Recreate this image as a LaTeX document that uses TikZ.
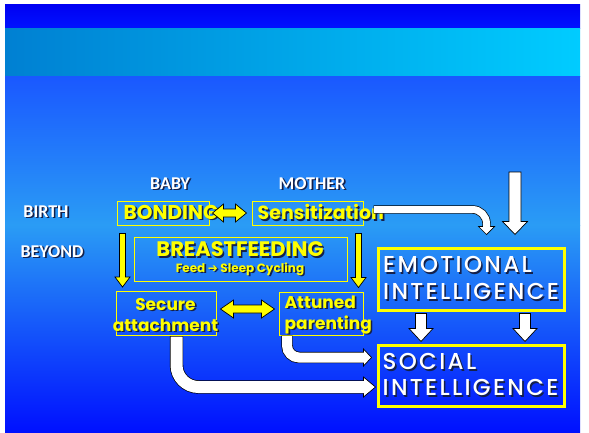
\documentclass[tikz,border=0pt]{standalone}
\usepackage{fontspec}
\setmainfont{Carlito}
\newfontfamily\comic{Poppins}
\newfontfamily\comicw{Poppins Medium}[LetterSpace=10]
\newfontfamily\symfont{DejaVu Sans}
\usepackage{xcolor}
\usetikzlibrary{calc,positioning}
\definecolor{Yel}{HTML}{FFFF00}
\definecolor{ShadowBlue}{HTML}{14204A}
\definecolor{BandTop}{HTML}{0000F2}
\definecolor{BandBot}{HTML}{0012FF}
\definecolor{CyanL}{HTML}{0080D2}
\definecolor{CyanR}{HTML}{00CCFF}
\definecolor{MainTop}{HTML}{1A58FF}
\definecolor{MainMid}{HTML}{2A9CF5}
\definecolor{MainBot}{HTML}{0010FF}
% text with a soft drop shadow
\newcommand{\shad}[1]{\makebox[0pt][l]{\kern1.6pt\raisebox{-1.6pt}{\color{ShadowBlue}#1}}#1}
% block arrow pointing down, from #2 to tip #3
\newcommand{\vblk}[6]{%
  \filldraw[blk,fill=#1] let \p1=(#2),\p2=(#3) in
    (\x1-#4pt,\y1) -- (\x1+#4pt,\y1) -- (\x1+#4pt,\y2+#6pt) -- (\x1+#5pt,\y2+#6pt)
    -- (\x1,\y2) -- (\x1-#5pt,\y2+#6pt) -- (\x1-#4pt,\y2+#6pt) -- cycle;}
% block arrow with two heads, left #2 to right #3
\newcommand{\dblk}[6]{%
  \filldraw[blk,fill=#1] let \p1=(#2),\p2=(#3) in
    (\x1,\y1) -- (\x1+#6pt,\y1+#5pt) -- (\x1+#6pt,\y1+#4pt) -- (\x2-#6pt,\y1+#4pt)
    -- (\x2-#6pt,\y1+#5pt) -- (\x2,\y1) -- (\x2-#6pt,\y1-#5pt) -- (\x2-#6pt,\y1-#4pt)
    -- (\x1+#6pt,\y1-#4pt) -- (\x1+#6pt,\y1-#5pt) -- cycle;}
% arrow heads for bent arrows
\newcommand{\headD}[3]{%
  \filldraw[blk,fill=white] let \p1=(#1) in
    (\x1,\y1) -- (\x1-#2pt,\y1+#3pt) -- (\x1+#2pt,\y1+#3pt) -- cycle;}
\newcommand{\headR}[3]{%
  \filldraw[blk,fill=white] let \p1=(#1) in
    (\x1,\y1) -- (\x1-#3pt,\y1+#2pt) -- (\x1-#3pt,\y1-#2pt) -- cycle;}
\tikzset{
  lbl/.style={text=white,font=\bfseries\fontsize{18}{20}\selectfont,inner sep=0pt},
  ybox/.style={draw=Yel,line width=1pt,inner sep=0pt},
  wbox/.style={draw=Yel,line width=3pt,inner sep=0pt},
  yword/.style={text=Yel,font=\comic\bfseries\fontsize{20}{22}\selectfont,inner sep=0pt},
  wword/.style={text=white,font=\comicw\fontsize{23}{27}\selectfont,inner sep=0pt,align=left},
  blk/.style={draw=black,line width=0.7pt,line join=miter},
  wout/.style={draw=black,line width=#1},
  win/.style={draw=white,line width=#1,shorten <=0.7pt,shorten >=-0.7pt}
}

\begin{document}
\begin{tikzpicture}[x=1pt,y=-1pt]
  \useasboundingbox (0,0) rectangle (589,432);
  % slide background
  \fill[white] (0,0) rectangle (589,432);
  \shade[top color=BandTop,bottom color=BandBot] (5,4) rectangle (580,28);
  \shade[left color=CyanL,right color=CyanR] (5,28) rectangle (580,76);
  \shade[top color=MainTop,bottom color=MainMid] (5,76) rectangle (580,225);
  \shade[top color=MainMid,bottom color=MainBot] (5,225) rectangle (580,432);

  % row and column labels
  \node[lbl] (baby) at (170,184) {\shad{BABY}};
  \node[lbl] (mother) at (312,184) {\shad{MOTHER}};
  \node[lbl] (birth) at (46,212) {\shad{BIRTH}};
  \node[lbl] (beyond) at (52,252) {\shad{BEYOND}};

  % yellow boxes
  \node[ybox,minimum width=92pt,minimum height=24pt] (bond) at (163,213) {};
  \node[yword,anchor=west] (bondtxt) at ([xshift=7pt]bond.west) {\shad{BONDING}};
  \node[ybox,minimum width=111pt,minimum height=24pt] (sens) at (307.5,213) {};
  \node[yword,anchor=west,font=\comic\bfseries\fontsize{19}{21}\selectfont] (senstxt)
    at ([xshift=6pt]sens.west) {\shad{Sensitization}};
  \node[ybox,minimum width=213pt,minimum height=44pt] (bf) at (240.5,259) {};
  \node[yword,font=\comic\bfseries\fontsize{21}{23}\selectfont] (bftxt) at (240,250) {\shad{BREASTFEEDING}};
  \node[yword,font=\comic\bfseries\fontsize{12}{14}\selectfont] (bfsub) at (240,270)
    {\shad{Feed {\symfont\mdseries ➔} Sleep Cycling}};
  \node[ybox,minimum width=100pt,minimum height=44pt] (sec) at (166,313.5) {};
  \node[yword,align=center,font=\comic\bfseries\fontsize{17}{21}\selectfont] (sectxt)
    at ([xshift=-0.5pt,yshift=-2pt]sec.center) {\shad{Secure}\\\shad{attachment}};
  \node[ybox,minimum width=84pt,minimum height=43pt] (att) at (321,313.5) {};
  \node[yword,align=left,anchor=west,font=\comic\bfseries\fontsize{17}{21}\selectfont] (atttxt)
    at ([xshift=6pt,yshift=-2pt]att.west) {\shad{Attuned}\\\shad{parenting}};

  % intelligence boxes
  \node[wbox,minimum width=186pt,minimum height=62pt] (emo) at (471.5,279) {};
  \node[wword,anchor=west] (emotxt) at ([xshift=6pt]emo.west) {\shad{EMOTIONAL}\\\shad{INTELLIGENCE}};
  \node[wbox,minimum width=186pt,minimum height=61pt] (soc) at (471,375.5) {};
  \node[wword,anchor=west,font=\comicw\fontsize{23}{26}\selectfont] (soctxt)
    at ([xshift=6pt]soc.west) {\shad{SOCIAL}\\\shad{INTELLIGENCE}};

  % yellow arrows
  \vblk{Yel}{$(bond.south west)+(6,8)$}{$(sec.north west)+(7,-4)$}{3}{7.5}{10}
  \vblk{Yel}{$(sens.south east)+(-5,8)$}{$(att.north east)+(-5,-4)$}{3}{7.5}{10}
  \dblk{Yel}{$(bond.east)+(3,0)$}{$(sens.west)+(-5,0)$}{4}{9}{11}
  \dblk{Yel}{$(sec.east)+(4,-4.5)$}{$(att.west)+(-4,-4.5)$}{4}{9}{13}

  % white arrows into the intelligence boxes
  \coordinate (topin) at (515,172);
  \vblk{white}{topin}{$(emo.north east)+(-49,-12)$}{6}{12.5}{13}
  \vblk{white}{$(emo.south west)+(44,2)$}{$(soc.north west)+(44,-2)$}{5.5}{12}{13}
  \vblk{white}{$(emo.south west)+(148,2)$}{$(soc.north west)+(148,-2)$}{5.5}{12}{13}

  % bent arrows
  \coordinate (s1) at ($(sens.east)+(10,-3.5)$);
  \coordinate (t1) at ($(emo.north west)+(109.5,-12)$);
  \coordinate (b1) at ($(t1)+(0,-8)$);
  \draw[wout=8.4pt] (s1) [rounded corners=14pt] -| (b1);
  \headD{t1}{8}{8}
  \draw[win=7pt] (s1) [rounded corners=14pt] -| (b1);

  \coordinate (s2) at ($(att.south)+(-34,0)$);
  \coordinate (t2) at ($(soc.west)+(-5,-18)$);
  \coordinate (b2) at ($(t2)+(-8,0)$);
  \draw[wout=11.4pt] (s2) [rounded corners=12pt] |- (b2);
  \headR{t2}{8.5}{8}
  \draw[win=10pt] (s2) [rounded corners=12pt] |- (b2);

  \coordinate (s3) at ($(sec.south)+(10.5,0)$);
  \coordinate (t3) at ($(soc.west)+(-1,11.5)$);
  \coordinate (b3) at ($(t3)+(-12,0)$);
  \draw[wout=13.4pt] (s3) [rounded corners=22pt] |- (b3);
  \headR{t3}{10}{12}
  \draw[win=12pt] (s3) [rounded corners=22pt] |- (b3);
\end{tikzpicture}
\end{document}
